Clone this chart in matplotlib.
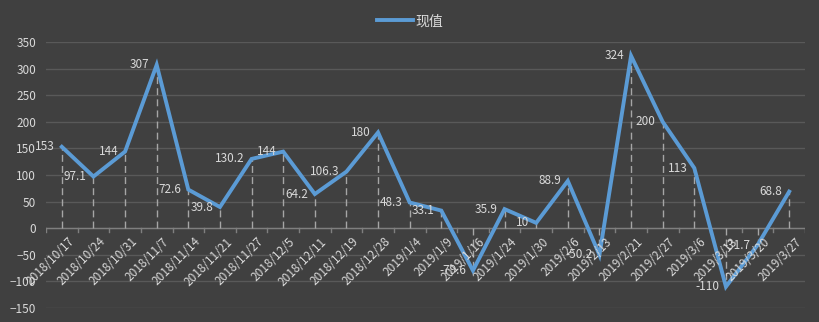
import numpy as np
import matplotlib.pyplot as plt

plt.rcParams['font.family'] = ['Noto Sans CJK SC', 'DejaVu Sans']

# chart data
dates = ['2018/10/17', '2018/10/24', '2018/10/31', '2018/11/7', '2018/11/14',
         '2018/11/21', '2018/11/27', '2018/12/5', '2018/12/11', '2018/12/19',
         '2018/12/28', '2019/1/4', '2019/1/9', '2019/1/16', '2019/1/24',
         '2019/1/30', '2019/2/6', '2019/2/13', '2019/2/21', '2019/2/27',
         '2019/3/6', '2019/3/13', '2019/3/20', '2019/3/27']
values = [153, 97.1, 144, 307, 72.6, 39.8, 130.2, 144, 64.2, 106.3,
          180, 48.3, 33.1, -79.6, 35.9, 10, 88.9, -50.2, 324, 200,
          113, -110, -31.7, 68.8]
value_labels = ['153', '97.1', '144', '307', '72.6', '39.8', '130.2', '144',
                '64.2', '106.3', '180', '48.3', '33.1', '-79.6', '35.9', '10',
                '88.9', '-50.2', '324', '200', '113', '-110', '-31.7', '68.8']
series_name = '现值'

bg = '#404040'
text_col = '#d9d9d9'
grid_col = '#595959'
line_col = '#5b9bd5'

fig = plt.figure(figsize=(8.2, 3.22), dpi=100, facecolor=bg)
ax = fig.add_axes([46 / 820, 14 / 322, 759 / 820, 266 / 322])
ax.set_facecolor(bg)

x = np.arange(len(values))
ax.set_xlim(-0.5, len(values) - 0.5)
ax.set_ylim(-150, 350)
ax.set_yticks(range(-150, 351, 50))
ax.yaxis.grid(True, color=grid_col, lw=1)
ax.set_axisbelow(True)
for s in ax.spines.values():
    s.set_visible(False)
ax.tick_params(axis='y', length=0, colors=text_col, labelsize=8.5, pad=7)
ax.set_xticks([])

# category axis drawn at zero
ax.axhline(0, color='#7f7f7f', lw=1, zorder=2)
for b in np.arange(-0.5, len(values), 1):
    ax.plot([b, b], [0, -7], color='#7f7f7f', lw=1, zorder=2)

# drop lines
ax.vlines(x, 0, values, colors='#a6a6a6', linestyles=(0, (5, 3)), lw=1, zorder=3)

ax.plot(x, values, color=line_col, lw=2.8, solid_joinstyle='miter', zorder=4, label=series_name)

for xi, v, lab in zip(x, values, value_labels):
    ax.annotate(lab, (xi, v), xytext=(-5, 0), textcoords='offset points',
                ha='right', va='center', color=text_col, fontsize=8.5, zorder=5)

for xi, d in zip(x, dates):
    ax.annotate(d, (xi, 0), xytext=(4, -5), textcoords='offset points',
                ha='right', va='top', rotation=45, rotation_mode='anchor',
                color=text_col, fontsize=8.5, zorder=5)

leg = fig.legend(loc='upper center', bbox_to_anchor=(0.5, 0.995), frameon=False,
                 fontsize=10, labelcolor=text_col, handlelength=2.6, handletextpad=0.2)

fig.savefig('out.png', dpi=100, facecolor=bg)
